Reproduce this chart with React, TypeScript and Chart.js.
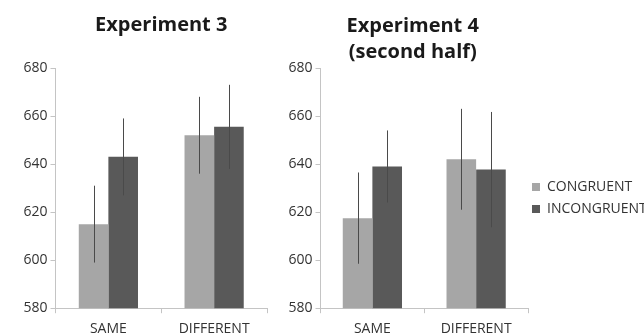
import React, { useEffect, useRef } from 'react';
import { Chart, registerables } from 'chart.js';

Chart.register(...registerables);

// ---- data ----
const categories = ['SAME', 'DIFFERENT'];
const seriesNames = ['CONGRUENT', 'INCONGRUENT'];
const exp3Congruent = [615, 652];
const exp3Incongruent = [643, 655.5];
const exp3CongruentErr = [16, 16];
const exp3IncongruentErr = [16, 17.5];
const exp4Congruent = [617.5, 642];
const exp4Incongruent = [639, 637.7];
const exp4CongruentErr = [19, 21];
const exp4IncongruentErr = [15, 24];
const yTicks = [580, 600, 620, 640, 660, 680];
const exp3Title = ['Experiment 3'];
const exp4Title = ['Experiment 4', '(second half)'];

// ---- styles ----
const FONT = "'Open Sans', sans-serif";
const LIGHT = '#a6a6a6';
const DARK = '#595959';
const AXIS = '#c4c4c4';
const TEXT = '#333333';

const errorBarPlugin = {
  id: 'errorBars',
  afterDatasetsDraw(chart: any, _args: any, opts: any) {
    const errs = opts && opts.errors;
    if (!errs) return;
    const y = chart.scales.y;
    const ctx = chart.ctx;
    ctx.save();
    ctx.strokeStyle = opts.color || '#444';
    ctx.lineWidth = 1;
    chart.data.datasets.forEach((ds: any, di: number) => {
      const meta = chart.getDatasetMeta(di);
      meta.data.forEach((bar: any, i: number) => {
        const v = ds.data[i];
        const e = errs[di][i];
        const x = Math.round(bar.x) + 0.5;
        const top = y.getPixelForValue(v + e);
        const bot = y.getPixelForValue(v - e);
        ctx.beginPath();
        ctx.moveTo(x, top);
        ctx.lineTo(x, bot);
        ctx.stroke();
      });
    });
    ctx.restore();
  },
};

function panelConfig(
  title: string[],
  congruent: number[],
  incongruent: number[],
  congErr: number[],
  incErr: number[],
  titlePad: { top: number; bottom: number },
  titleFull: boolean,
  padding: any,
  catPct: number,
  extraRight: number
): any {
  const scales: any = {
    x: {
      type: 'category',
      offset: true,
      grid: {
        display: true,
        drawOnChartArea: false,
        drawTicks: true,
        tickLength: 5,
        color: AXIS,
        offset: true,
      },
      border: { display: true, color: AXIS },
      ticks: { font: { family: FONT, size: 14 }, color: TEXT, padding: 7 },
    },
    y: {
      min: 580,
      max: 680,
      afterBuildTicks: (scale: any) => {
        scale.ticks = yTicks.map((v) => ({ value: v }));
      },
      grid: {
        display: true,
        drawOnChartArea: false,
        drawTicks: true,
        tickLength: 5,
        color: AXIS,
      },
      border: { display: true, color: AXIS },
      ticks: { font: { family: FONT, size: 14 }, color: TEXT, padding: 3 },
    },
  };
  if (extraRight > 0) {
    scales.spacer = {
      type: 'linear',
      position: 'right',
      display: true,
      grid: { display: false },
      border: { display: false },
      ticks: { display: false },
      afterFit: (scale: any) => {
        scale.width = extraRight;
      },
    };
  }
  return {
    type: 'bar',
    data: {
      labels: categories,
      datasets: [
        {
          label: seriesNames[0],
          data: congruent,
          backgroundColor: LIGHT,
          borderWidth: 0,
          barPercentage: 1,
          categoryPercentage: catPct,
        },
        {
          label: seriesNames[1],
          data: incongruent,
          backgroundColor: DARK,
          borderWidth: 0,
          barPercentage: 1,
          categoryPercentage: catPct,
        },
      ],
    },
    options: {
      responsive: false,
      animation: false,
      devicePixelRatio: 1,
      layout: { padding },
      scales,
      plugins: {
        legend: { display: false },
        tooltip: { enabled: false },
        title: {
          display: true,
          text: title,
          fullSize: titleFull,
          color: '#1a1a1a',
          font: { family: FONT, size: 20, weight: 'bold', lineHeight: 1.3 },
          padding: titlePad,
        },
        errorBars: { errors: [congErr, incErr], color: '#4a4a4a' },
      },
    },
    plugins: [errorBarPlugin],
  };
}

function legendConfig(): any {
  return {
    type: 'bar',
    data: {
      labels: [],
      datasets: [
        { label: seriesNames[0], data: [], backgroundColor: LIGHT, borderWidth: 0 },
        { label: seriesNames[1], data: [], backgroundColor: DARK, borderWidth: 0 },
      ],
    },
    options: {
      responsive: false,
      animation: false,
      devicePixelRatio: 1,
      layout: { padding: 0 },
      scales: { x: { display: false }, y: { display: false } },
      plugins: {
        tooltip: { enabled: false },
        title: { display: false },
        legend: {
          display: true,
          position: 'top',
          align: 'start',
          labels: {
            boxWidth: 8,
            boxHeight: 8,
            padding: 8,
            color: TEXT,
            font: { family: FONT, size: 14 },
          },
        },
      },
    },
  };
}

export default function App() {
  const r1 = useRef<HTMLCanvasElement>(null);
  const r2 = useRef<HTMLCanvasElement>(null);
  const r3 = useRef<HTMLCanvasElement>(null);

  useEffect(() => {
    const c1 = new Chart(
      r1.current as HTMLCanvasElement,
      panelConfig(
        exp3Title,
        exp3Congruent,
        exp3Incongruent,
        exp3CongruentErr,
        exp3IncongruentErr,
        { top: 12, bottom: 30 },
        false,
        { left: 20.5, right: 5, top: 0, bottom: 0 },
        0.56,
        0
      )
    );
    const c2 = new Chart(
      r2.current as HTMLCanvasElement,
      panelConfig(
        exp4Title,
        exp4Congruent,
        exp4Incongruent,
        exp4CongruentErr,
        exp4IncongruentErr,
        { top: 13, bottom: 3 },
        true,
        { left: 13.5, right: 2, top: 0, bottom: 0 },
        0.571,
        12
      )
    );
    const c3 = new Chart(r3.current as HTMLCanvasElement, legendConfig());
    return () => {
      c1.destroy();
      c2.destroy();
      c3.destroy();
    };
  }, []);

  return (
    <div
      style={{
        position: 'fixed',
        left: 0,
        top: 0,
        width: 644,
        height: 335,
        overflow: 'hidden',
        background: '#ffffff',
      }}
    >
      <canvas ref={r1} width={272} height={344} style={{ position: 'absolute', left: 0, top: 0 }} />
      <canvas ref={r2} width={270} height={344} style={{ position: 'absolute', left: 272, top: 0 }} />
      <canvas ref={r3} width={120} height={100} style={{ position: 'absolute', left: 524, top: 172 }} />
    </div>
  );
}
